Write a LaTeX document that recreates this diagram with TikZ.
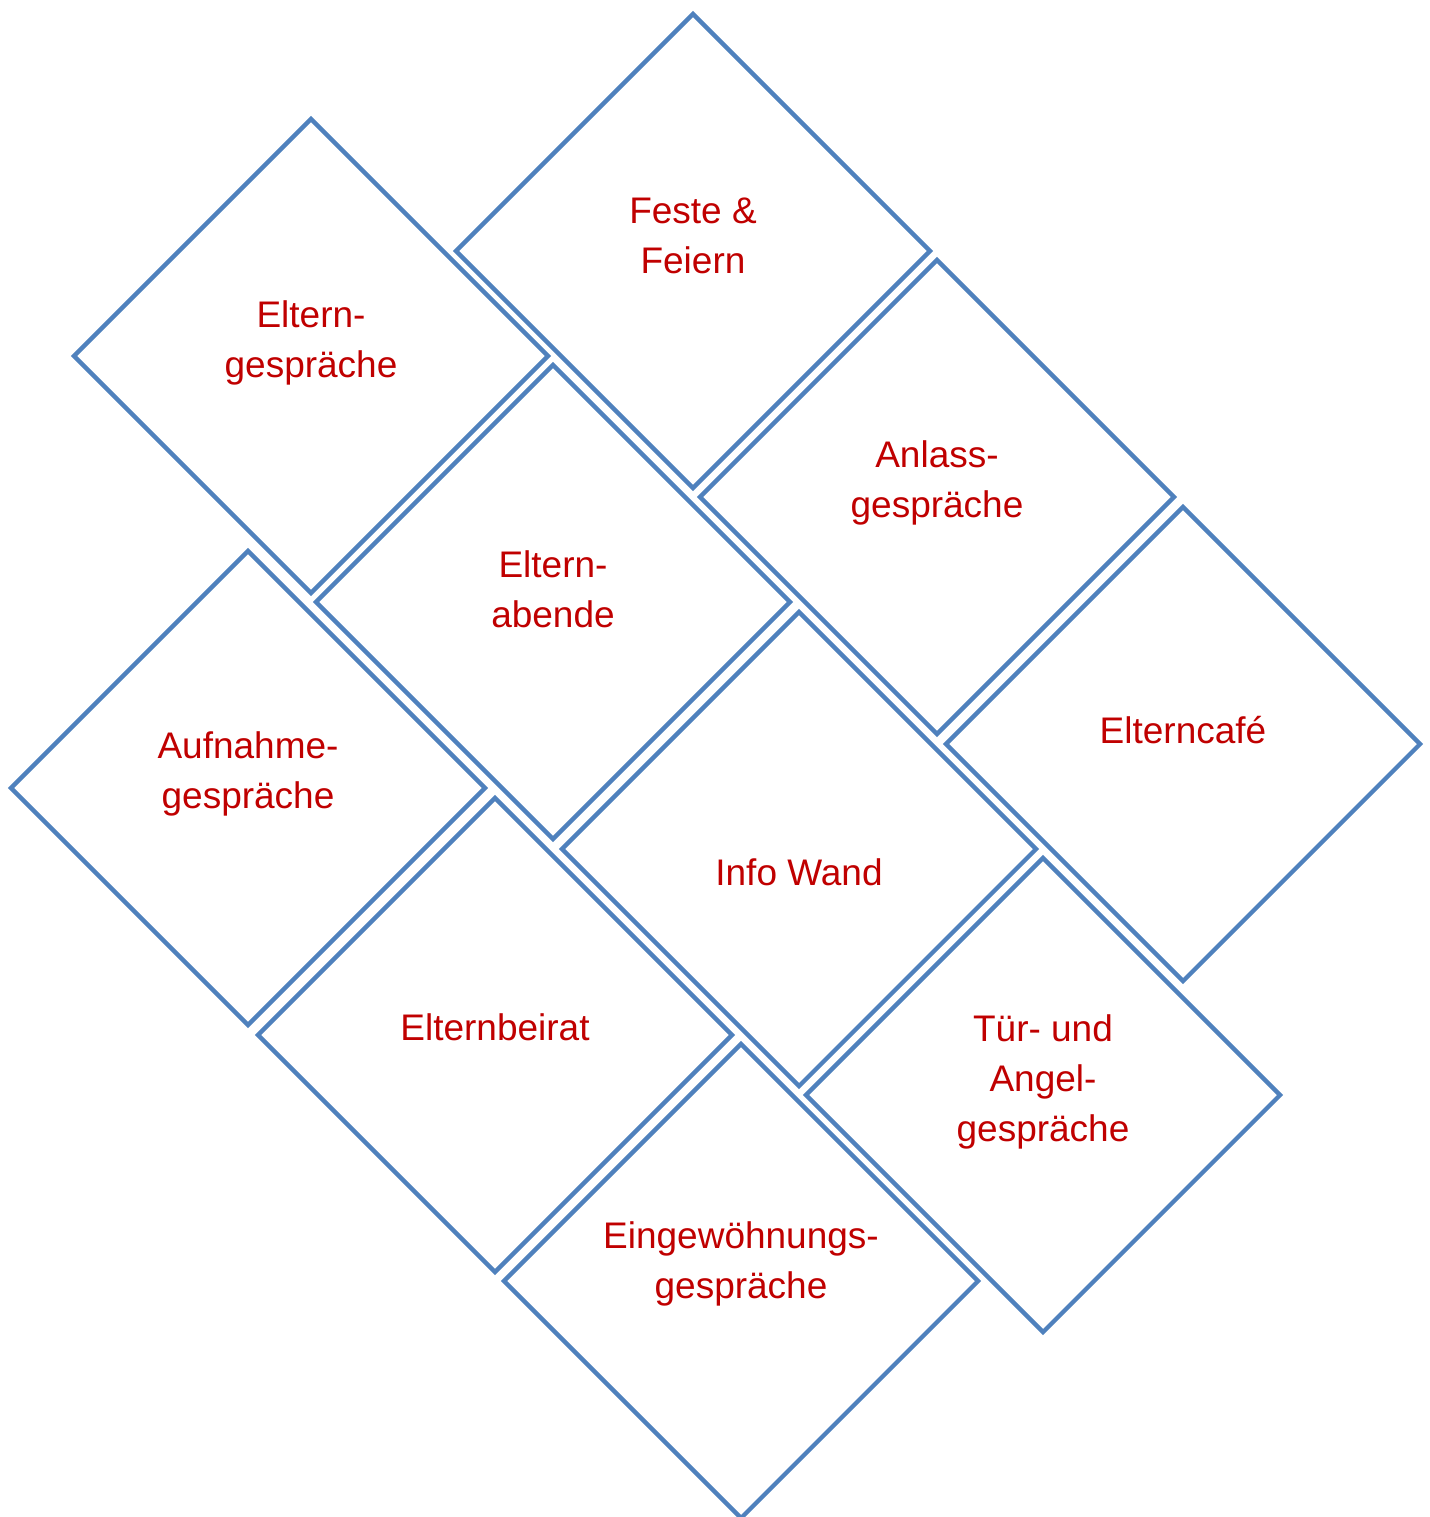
\documentclass[tikz,border=0pt]{standalone}
\usepackage{fontspec}
\setmainfont{Liberation Sans}
\usetikzlibrary{shapes.geometric}
\definecolor{tileblue}{HTML}{4F81BD}
\definecolor{textred}{HTML}{C00000}
\tikzset{
  tile/.style={diamond,draw=tileblue,line width=2.2pt,minimum size=238pt,inner sep=0pt,fill=white},
  lbl/.style={text=textred,align=center,font=\fontsize{18.5}{25}\selectfont}
}
\begin{document}
\begin{tikzpicture}[x=0.5pt,y=-0.5pt]
\useasboundingbox (0,0) rectangle (1430,1517);
% the tiles
\node[tile] (feste) at (693,251) {};
\node[tile] (gespr) at (311,356) {};
\node[tile] (anlass) at (937,497) {};
\node[tile] (abende) at (553,602) {};
\node[tile] (cafe) at (1183,744) {};
\node[tile] (aufnahme) at (248,788) {};
\node[tile] (info) at (799,849) {};
\node[tile] (beirat) at (495,1035) {};
\node[tile] (tuer) at (1043,1095) {};
\node[tile] (eingew) at (741,1281) {};
% the texts
\node[lbl] (festetxt) at (693,236) {Feste \&\\Feiern};
\node[lbl] (gesprtxt) at (311,343) {Eltern-\\gespräche};
\node[lbl] (anlasstxt) at (937,483) {Anlass-\\gespräche};
\node[lbl] (abendetxt) at (553,589) {Eltern-\\abende};
\node[lbl] (cafetxt) at (1183,730) {Elterncafé};
\node[lbl] (aufnahmetxt) at (248,774) {Aufnahme-\\gespräche};
\node[lbl] (infotxt) at (799,872) {Info Wand};
\node[lbl] (beirattxt) at (495,1027) {Elternbeirat};
\node[lbl] (tuertxt) at (1043,1082) {Tür- und\\Angel-\\gespräche};
\node[lbl] (eingewtxt) at (741,1264) {Eingewöhnungs-\\gespräche};
\end{tikzpicture}
\end{document}
